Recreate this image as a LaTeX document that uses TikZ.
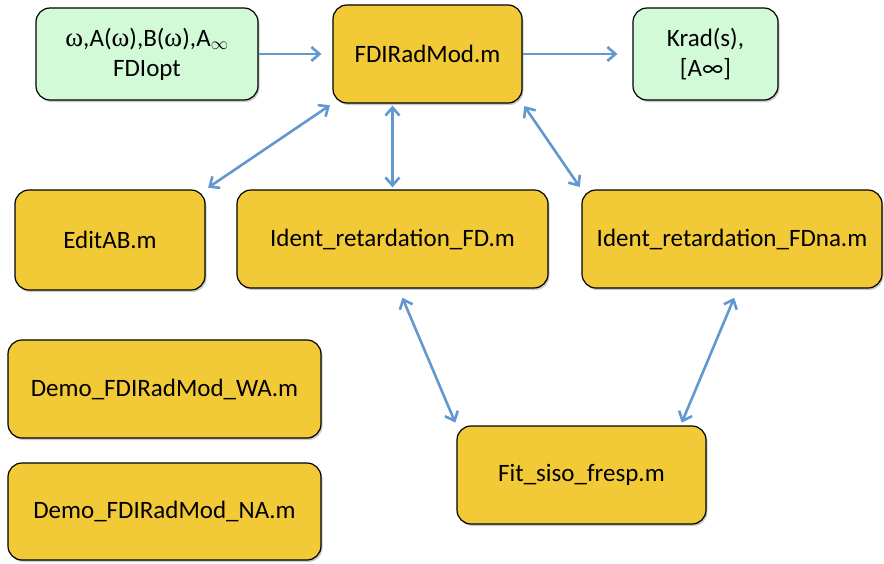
\documentclass[tikz,border=0pt]{standalone}
\usepackage{fontspec}
\setmainfont{Carlito}
\newfontfamily\greekserif{Liberation Serif}
\usetikzlibrary{arrows.meta,shadows,calc}
\definecolor{boxyellow}{HTML}{F2C937}
\definecolor{boxgreen}{HTML}{D3FAD6}
\definecolor{linkblue}{HTML}{6198CF}
\tikzset{
  box/.style={draw=black, line width=1.2pt, rounded corners=14pt, align=center,
    font=\fontsize{25}{30}\selectfont, inner sep=0pt,
    drop shadow={shadow xshift=1.5pt, shadow yshift=-2pt, opacity=0.35, fill=black!60}},
  codebox/.style={box, fill=boxyellow},
  databox/.style={box, fill=boxgreen},
  barb/.tip={Straight Barb[length=8pt,width=14pt]},
  link/.style={draw=linkblue, line width=2.6pt, -barb},
  dlink/.style={draw=linkblue, line width=2.6pt, barb-barb}
}
\begin{document}
\begin{tikzpicture}[x=1pt,y=-1pt]
\useasboundingbox (0,0) rectangle (884,563);
\node[databox, minimum width=222pt, minimum height=92pt] (in) at (147,54)
  {{\greekserif\fontsize{27}{30}\selectfont ω},A({\greekserif\fontsize{27}{30}\selectfont ω}),B({\greekserif\fontsize{27}{30}\selectfont ω}),A$_\infty$\\FDIopt};
\node[codebox, minimum width=189pt, minimum height=98pt] (fdi) at (427.5,54) {FDIRadMod.m};
\node[databox, minimum width=145pt, minimum height=92pt] (krad) at (705.5,54) {Krad(s),\\{}[A∞]};
\node[codebox, minimum width=190pt, minimum height=100pt] (edit) at (110,240) {EditAB.m};
\node[codebox, minimum width=311pt, minimum height=98pt] (idfd) at (392.5,239) {Ident\_retardation\_FD.m};
\node[codebox, minimum width=300pt, minimum height=98pt] (idna) at (732,239) {Ident\_retardation\_FDna.m};
\node[codebox, minimum width=313pt, minimum height=98pt] (demowa) at (164.5,389) {Demo\_FDIRadMod\_WA.m};
\node[codebox, minimum width=313pt, minimum height=97pt] (demona) at (164.5,511.5) {Demo\_FDIRadMod\_NA.m};
\node[codebox, minimum width=249pt, minimum height=98pt] (fit) at (581.5,475) {Fit\_siso\_fresp.m};

\draw[link, shorten >=11pt] (in.east) -- (fdi.west);
\draw[link, shorten >=15pt] (fdi.east) -- (krad.west);
\draw[dlink, shorten <=3pt, shorten >=3pt] (fdi.south west) -- (edit.north east);
\draw[dlink, shorten <=2pt, shorten >=2pt] (idfd.north |- fdi.south) -- (idfd.north);
\draw[dlink, shorten <=3pt, shorten >=3pt] (fdi.south east) -- (idna.north west);
\draw[dlink, shorten <=10pt, shorten >=3pt] ($(idfd.south)+(6,0)$) -- (fit.north west);
\draw[dlink, shorten <=10pt, shorten >=3pt] ($(idna.south)+(6,0)$) -- ($(fit.north east)+(-26,0)$);
\end{tikzpicture}
\end{document}
